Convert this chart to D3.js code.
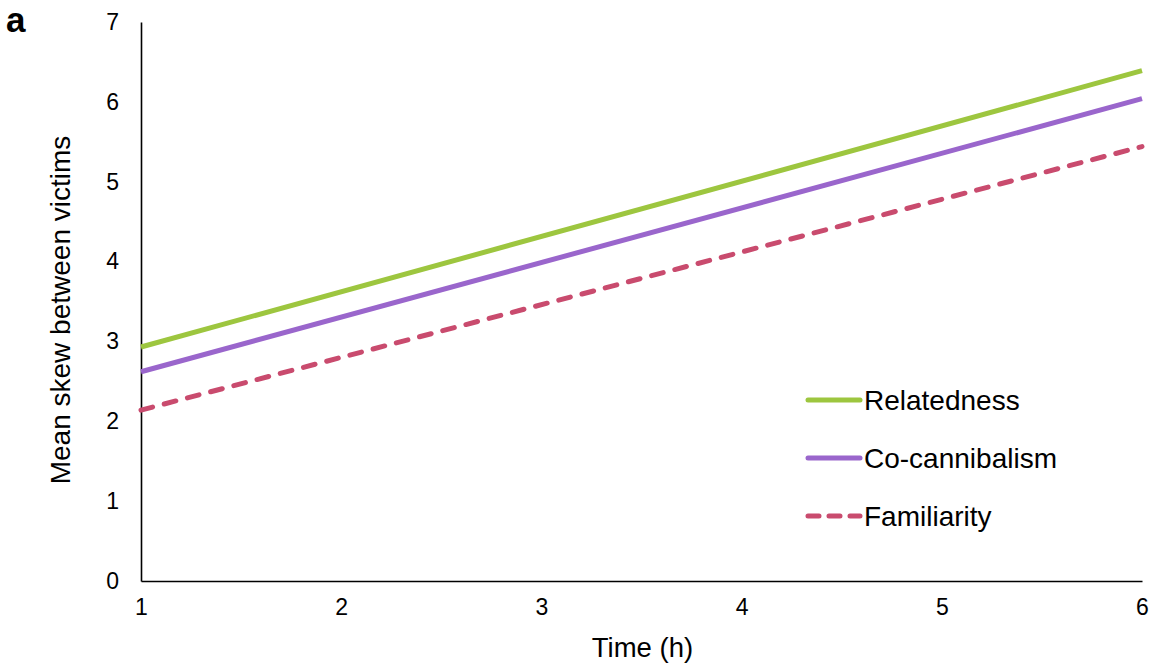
<!DOCTYPE html>
<html>
<head>
<meta charset="utf-8">
<script src="https://cdn.jsdelivr.net/npm/d3@7/dist/d3.min.js"></script>
<style>
  html, body { margin: 0; padding: 0; background: #fff; }
  svg { display: block; font-family: "Liberation Sans", Arial, Helvetica, sans-serif; }
</style>
</head>
<body>
<svg id="chart" width="1153" height="666"></svg>
<script>
// Fitted trend of mean skew between victims over time, one line per predictor
const hours = [1, 6];
const relatedness = [2.93, 6.39];
const coCannibalism = [2.62, 6.04];
const familiarity = [2.14, 5.44];

const seriesNames = ["Relatedness", "Co-cannibalism", "Familiarity"];
const seriesColors = ["#9DC63F", "#9A66CC", "#C94B6E"];
const seriesDashed = [false, false, true];

const xTicks = [1, 2, 3, 4, 5, 6];
const yTicks = [0, 1, 2, 3, 4, 5, 6, 7];

const series = [relatedness, coCannibalism, familiarity].map((vals, i) => ({
  name: seriesNames[i],
  color: seriesColors[i],
  dashed: seriesDashed[i],
  points: hours.map((h, j) => ({ x: h, y: vals[j] }))
}));

const svg = d3.select("#chart");
const margin = { left: 141, right: 11, top: 22, bottom: 85 };
const W = 1153, H = 666;

const x = d3.scaleLinear().domain([1, 6]).range([margin.left, W - margin.right]);
const y = d3.scaleLinear().domain([0, 7]).range([H - margin.bottom, margin.top]);

// Axes: plain black lines, labels only
const xAxis = svg.append("g")
  .attr("transform", `translate(0,${y(0)})`)
  .call(d3.axisBottom(x).tickValues(xTicks).tickSize(0).tickPadding(18).tickFormat(d3.format("d")));
xAxis.select(".domain").attr("stroke", "#000").attr("stroke-width", 1.6);
xAxis.selectAll("text").attr("font-size", 23).attr("fill", "#000");

const yAxis = svg.append("g")
  .attr("transform", `translate(${x(1)},0)`)
  .call(d3.axisLeft(y).tickValues(yTicks).tickSize(0).tickPadding(22).tickFormat(d3.format("d")));
yAxis.select(".domain").attr("stroke", "#000").attr("stroke-width", 1.6);
yAxis.selectAll("text").attr("font-size", 23).attr("fill", "#000");

// Axis titles
svg.append("text")
  .attr("x", (x(1) + x(6)) / 2 + 1)
  .attr("y", 657)
  .attr("text-anchor", "middle")
  .attr("font-size", 27.5)
  .attr("fill", "#000")
  .text("Time (h)");

svg.append("text")
  .attr("transform", `translate(70,${310}) rotate(-90)`)
  .attr("text-anchor", "middle")
  .attr("font-size", 28)
  .attr("fill", "#000")
  .text("Mean skew between victims");

// Panel letter
svg.append("text")
  .attr("x", 6)
  .attr("y", 32)
  .attr("font-size", 35)
  .attr("font-weight", "bold")
  .attr("fill", "#000")
  .text("a");

// Trend lines
const line = d3.line().x(d => x(d.x)).y(d => y(d.y));
svg.append("g").selectAll("path")
  .data(series)
  .join("path")
  .attr("d", d => line(d.points))
  .attr("fill", "none")
  .attr("stroke", d => d.color)
  .attr("stroke-width", 5)
  .attr("stroke-linecap", d => d.dashed ? "round" : "butt")
  .attr("stroke-dasharray", d => d.dashed ? "12,12" : null);

// Legend
const legend = svg.append("g").attr("transform", "translate(808,400)");
const rows = legend.selectAll("g")
  .data(series)
  .join("g")
  .attr("transform", (d, i) => `translate(0,${i * 58})`);
rows.append("line")
  .attr("x1", 0).attr("x2", 52)
  .attr("y1", 0).attr("y2", 0)
  .attr("stroke", d => d.color)
  .attr("stroke-width", 5)
  .attr("stroke-linecap", "round")
  .attr("stroke-dasharray", d => d.dashed ? "11,10" : null);
rows.append("text")
  .attr("x", 56)
  .attr("y", 0)
  .attr("dy", "0.35em")
  .attr("font-size", 28)
  .attr("fill", "#000")
  .text(d => d.name);
</script>
</body>
</html>
